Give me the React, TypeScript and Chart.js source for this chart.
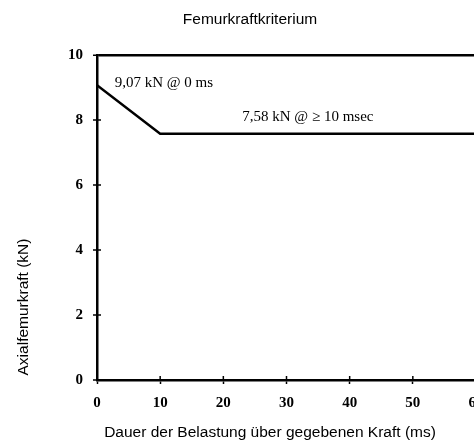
import React, { useEffect, useRef } from "react";
import { Chart, registerables } from "chart.js";

Chart.register(...registerables);

const chartTitle = "Femurkraftkriterium";
const xAxisTitle = "Dauer der Belastung über gegebenen Kraft (ms)";
const yAxisTitle = "Axialfemurkraft (kN)";

const durationMs = [0, 10, 60];
const femurForceKN = [9.07, 7.58, 7.58];

const annotationTexts = ["9,07 kN @ 0 ms", "7,58 kN @ \u2265 10 msec"];

const SANS = "'Liberation Sans', Arial, sans-serif";
const SERIF = "'Liberation Serif', 'Times New Roman', serif";

const textPlugin = {
  id: "textPlugin",
  afterDraw(chart: any) {
    const ctx = chart.ctx;
    const xs = chart.scales.x;
    const ys = chart.scales.y;
    ctx.save();
    // cross ticks (inner part)
    ctx.strokeStyle = "#000";
    ctx.lineWidth = 1.5;
    xs.ticks.forEach((t: any) => {
      const px = xs.getPixelForValue(t.value);
      ctx.beginPath();
      ctx.moveTo(px, ys.bottom);
      ctx.lineTo(px, ys.bottom - 4);
      ctx.stroke();
    });
    ys.ticks.forEach((t: any) => {
      const py = ys.getPixelForValue(t.value);
      ctx.beginPath();
      ctx.moveTo(xs.left, py);
      ctx.lineTo(xs.left + 4, py);
      ctx.stroke();
    });

    ctx.fillStyle = "#000";
    ctx.textBaseline = "middle";
    // title
    ctx.font = `15.5px ${SANS}`;
    ctx.textAlign = "center";
    ctx.fillText(chartTitle, 250, 20);
    // x title
    ctx.fillText(xAxisTitle, 270, 433);
    // y title
    ctx.save();
    ctx.translate(24, 307);
    ctx.rotate(-Math.PI / 2);
    ctx.fillText(yAxisTitle, 0, 0);
    ctx.restore();

    // annotations
    ctx.font = `15px ${SERIF}`;
    ctx.textAlign = "left";
    ctx.fillText(annotationTexts[0], xs.getPixelForValue(2.8), ys.getPixelForValue(9.15));
    ctx.fillText(annotationTexts[1], xs.getPixelForValue(23.0), ys.getPixelForValue(8.1));
    ctx.restore();
  },
};

export default function App() {
  const ref = useRef<HTMLCanvasElement | null>(null);
  useEffect(() => {
    if (!ref.current) return;
    const points = durationMs.map((x, i) => ({ x, y: femurForceKN[i] }));
    const chart = new Chart(ref.current, {
      type: "line",
      data: {
        datasets: [
          {
            data: points,
            borderColor: "#000",
            borderWidth: 2.5,
            pointRadius: 0,
            fill: false,
            tension: 0,
          },
        ],
      },
      options: {
        animation: false,
        responsive: false,
        maintainAspectRatio: false,
        layout: { padding: { top: 55, right: 24, left: 0, bottom: 0 } },
        plugins: {
          legend: { display: false },
          title: { display: false },
          tooltip: { enabled: false },
        },
        scales: {
          x: {
            type: "linear",
            min: 0,
            max: 60,
            afterFit: (s: any) => {
              s.height = 63;
            },
            ticks: {
              stepSize: 10,
              color: "#000",
              padding: 10,
              font: { family: SERIF, size: 15, weight: "bold" },
            },
            border: { display: true, color: "#000", width: 2.5 },
            grid: {
              drawOnChartArea: false,
              drawTicks: true,
              tickLength: 4,
              tickColor: "#000",
              tickWidth: 1.5,
            },
          },
          y: {
            min: 0,
            max: 10,
            afterFit: (s: any) => {
              s.width = 97;
            },
            ticks: {
              stepSize: 2,
              color: "#000",
              padding: 10,
              font: { family: SERIF, size: 15, weight: "bold" },
            },
            border: { display: true, color: "#000", width: 2.5 },
            grid: {
              drawOnChartArea: true,
              drawTicks: true,
              tickLength: 4,
              tickColor: "#000",
              tickWidth: 1.5,
              color: (c: any) => (c.tick && c.tick.value === 10 ? "#000" : "rgba(0,0,0,0)"),
              lineWidth: (c: any) => (c.tick && c.tick.value === 10 ? 2.5 : 0),
            },
          },
        },
      },
      plugins: [textPlugin],
    });
    return () => chart.destroy();
  }, []);
  return (
    <div
      style={{
        position: "absolute",
        left: 0,
        top: 0,
        width: 474,
        height: 443,
        overflow: "hidden",
        background: "#fff",
      }}
    >
      <canvas ref={ref} width={500} height={443} style={{ width: 500, height: 443, display: "block" }} />
    </div>
  );
}
